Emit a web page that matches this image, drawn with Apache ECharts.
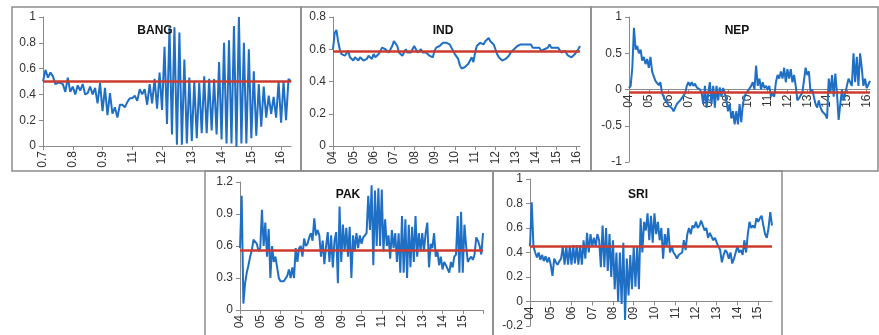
<!DOCTYPE html>
<html>
<head>
<meta charset="utf-8">
<script src="https://cdn.jsdelivr.net/npm/echarts@6/dist/echarts.min.js"></script>
<style>html,body{margin:0;padding:0;background:#fff;}#c{width:879px;height:335px;}</style>
</head>
<body>
<div id="c"></div>
<script>
// ---- data ----
const panelNames = ["BANG", "IND", "NEP", "PAK", "SRI"];

const bangYears = ["0.7","0.8","0.9","11","12","13","14","15","16"];
const indYears  = ["04","05","06","07","08","09","10","11","12","13","14","15","16"];
const nepYears  = ["04","05","06","07","08","09","10","11","12","13","14","15","16"];
const pakYears  = ["04","05","06","07","08","09","10","11","12","13","14","15"];
const sriYears  = ["04","05","06","07","08","09","10","11","12","13","14","15"];

const bangValues = [0.50,0.59,0.53,0.57,0.54,0.48,0.49,0.49,0.48,0.42,0.53,0.42,0.46,0.40,0.47,0.43,0.48,0.40,0.41,0.46,
0.40,0.45,0.33,0.49,0.27,0.45,0.24,0.41,0.25,0.30,0.22,0.32,0.32,0.30,0.34,0.37,0.37,0.39,0.35,0.44,
0.40,0.44,0.32,0.48,0.33,0.52,0.29,0.57,0.28,0.77,0.17,0.92,0.09,0.92,0.01,0.88,0.01,0.67,0.02,0.53,
0.04,0.50,0.06,0.49,0.10,0.54,0.10,0.52,0.12,0.52,0.09,0.65,0.05,0.80,0.02,0.82,0.02,0.93,-0.01,1.00,
0.02,0.80,0.02,0.75,0.06,0.58,0.08,0.48,0.15,0.46,0.22,0.39,0.25,0.38,0.22,0.50,0.18,0.50,0.20,0.52,0.50];

const indValues = [0.60,0.70,0.72,0.65,0.60,0.57,0.56,0.56,0.57,0.59,0.55,0.54,0.53,0.55,0.56,0.53,0.55,0.54,0.53,0.52,
0.54,0.56,0.56,0.54,0.57,0.55,0.56,0.57,0.59,0.61,0.60,0.60,0.61,0.58,0.60,0.62,0.65,0.64,0.62,0.58,
0.57,0.56,0.58,0.60,0.58,0.59,0.58,0.59,0.62,0.60,0.58,0.59,0.60,0.58,0.57,0.58,0.57,0.56,0.56,0.55,
0.59,0.61,0.62,0.62,0.63,0.64,0.63,0.64,0.63,0.63,0.61,0.62,0.57,0.56,0.54,0.50,0.48,0.47,0.49,0.50,
0.51,0.53,0.55,0.52,0.58,0.62,0.63,0.64,0.64,0.63,0.65,0.64,0.67,0.65,0.64,0.63,0.60,0.57,0.55,0.54,
0.53,0.53,0.54,0.55,0.56,0.58,0.58,0.60,0.61,0.62,0.63,0.63,0.64,0.63,0.64,0.63,0.62,0.63,0.61,0.62,
0.61,0.60,0.61,0.59,0.58,0.60,0.60,0.61,0.63,0.61,0.60,0.61,0.60,0.61,0.60,0.58,0.57,0.59,0.58,0.56,
0.56,0.55,0.55,0.57,0.56,0.60,0.62];

const nepValues = [0.02,0.05,0.30,0.85,0.55,0.60,0.50,0.55,0.40,0.45,0.35,0.42,0.30,0.45,0.25,0.18,0.12,0.10,0.06,0.10,
-0.05,-0.10,-0.15,-0.18,-0.22,-0.20,-0.26,-0.30,-0.25,-0.20,-0.22,-0.15,-0.12,-0.10,-0.05,0.05,0.10,0.05,0.10,0.05,
0.08,0.03,0.05,0.00,-0.05,-0.20,0.05,-0.25,-0.05,0.10,-0.20,0.05,-0.25,0.05,-0.15,0.03,-0.10,0.02,-0.05,-0.15,
-0.30,-0.20,-0.40,-0.30,-0.48,-0.30,-0.48,-0.20,-0.45,-0.20,-0.10,-0.05,-0.02,0.00,0.05,0.10,0.00,0.33,0.05,0.15,
0.00,0.10,0.02,0.05,0.00,0.05,-0.10,-0.05,-0.10,0.10,0.20,0.15,0.25,0.15,0.30,0.10,0.28,0.15,0.28,0.10,
0.20,0.05,-0.15,-0.12,-0.08,-0.05,-0.05,0.30,0.20,0.25,-0.05,0.00,-0.10,-0.20,-0.25,-0.15,-0.25,-0.30,-0.32,-0.35,
-0.40,0.15,-0.05,0.20,-0.10,0.22,-0.05,-0.42,-0.20,0.00,-0.15,-0.05,0.05,0.15,0.10,0.05,0.50,0.10,0.45,0.05,
0.50,0.30,0.05,0.15,0.02,0.00,0.12];

const pakValues = [0.58,1.07,0.06,0.25,0.35,0.42,0.50,0.56,0.66,0.65,0.62,0.55,0.58,0.94,0.60,0.82,0.50,0.76,0.30,0.60,
0.45,0.50,0.40,0.30,0.27,0.27,0.27,0.28,0.32,0.38,0.30,0.40,0.30,0.58,0.45,0.58,0.60,0.50,0.67,0.60,
0.62,0.68,0.72,0.65,0.86,0.70,0.75,0.70,0.50,0.65,0.43,0.60,0.73,0.45,0.70,0.40,0.65,0.73,0.25,0.97,
0.45,0.80,0.55,0.77,0.50,0.78,0.30,0.70,0.55,0.72,0.58,0.70,0.62,0.68,0.70,0.72,1.07,0.75,1.17,0.42,
1.12,0.60,1.14,0.60,1.13,0.55,0.85,0.60,0.70,0.48,0.75,0.58,0.72,0.45,0.72,0.35,0.88,0.35,0.85,0.30,
0.80,0.40,0.78,0.45,0.88,0.50,0.72,0.55,0.72,0.55,0.72,0.82,0.40,0.62,0.58,0.72,0.50,0.55,0.42,0.50,
0.38,0.45,0.42,0.42,0.35,0.45,0.40,0.50,0.52,0.88,0.35,0.92,0.35,0.80,0.60,0.45,0.48,0.50,0.47,0.52,
0.68,0.65,0.60,0.52,0.72];

const sriValues = [0.45,0.81,0.45,0.40,0.36,0.40,0.34,0.38,0.33,0.37,0.32,0.36,0.30,0.21,0.35,0.32,0.30,0.33,0.35,0.45,
0.30,0.45,0.30,0.45,0.30,0.46,0.31,0.46,0.30,0.46,0.30,0.50,0.35,0.56,0.40,0.55,0.45,0.52,0.45,0.55,
0.50,0.28,0.62,0.28,0.60,0.25,0.55,0.20,0.50,0.10,0.40,0.00,0.40,-0.02,0.48,-0.15,0.35,0.05,0.38,0.10,
0.45,0.12,0.45,0.10,0.68,0.40,0.65,0.58,0.72,0.50,0.70,0.48,0.72,0.55,0.65,0.50,0.60,0.35,0.55,0.45,
0.60,0.40,0.45,0.40,0.38,0.35,0.38,0.37,0.40,0.50,0.42,0.55,0.60,0.55,0.62,0.60,0.65,0.60,0.62,0.66,
0.62,0.58,0.60,0.52,0.56,0.55,0.50,0.52,0.48,0.45,0.42,0.32,0.38,0.42,0.40,0.35,0.40,0.31,0.35,0.40,
0.45,0.40,0.42,0.38,0.50,0.40,0.55,0.65,0.60,0.62,0.60,0.68,0.65,0.68,0.70,0.62,0.55,0.52,0.60,0.73,0.62];

const meanLevels = [0.50, 0.59, -0.045, 0.555, 0.445];

const yMin = [0, 0, -1, 0, -0.2];
const yMax = [1, 0.8, 1, 1.2, 1];
const yStep = [0.2, 0.2, 0.5, 0.3, 0.2];

// ---- layout ----
const grids = [
  {left: 43, top: 17, width: 248, height: 129},
  {left: 333, top: 17, width: 247, height: 129},
  {left: 629, top: 17, width: 241, height: 145},
  {left: 240, top: 182, width: 243, height: 128},
  {left: 530, top: 179, width: 242, height: 147}
];
const panels = [
  [12, 7, 289, 164],
  [301, 7, 290, 164],
  [591, 7, 287, 164],
  [205, 171, 288, 166],
  [493, 171, 289, 166]
];
const titlePos = [[155, 31], [443, 31], [737, 31], [348, 195], [638, 195]];

const allValues = [bangValues, indValues, nepValues, pakValues, sriValues];
const allYears = [bangYears, indYears, nepYears, pakYears, sriYears];

const axisGrey = '#8a8a8a';
const font = 'Liberation Sans, Arial, sans-serif';

const xAxes = [], yAxes = [], series = [], graphics = [];
allValues.forEach((vals, k) => {
  const years = allYears[k];
  // place the category axis where y = 0 (for panels with negative range)
  const zeroOffset = yMin[k] < 0 ? -grids[k].height * (0 - yMin[k]) / (yMax[k] - yMin[k]) : 0;
  xAxes.push({
    type: 'category', gridIndex: k, boundaryGap: false,
    data: vals.map((_, i) => String(i)),
    offset: zeroOffset,
    axisLine: {onZero: false, lineStyle: {color: axisGrey, width: 1}},
    axisTick: {show: true, interval: 11, length: 4, lineStyle: {color: axisGrey}},
    axisLabel: {interval: 11, rotate: 90, fontSize: 12, color: '#333', fontFamily: font, margin: 5,
      formatter: (v, i) => years[Math.round(i / 12)] || ''},
    splitLine: {show: false}
  });
  yAxes.push({
    type: 'value', gridIndex: k, min: yMin[k], max: yMax[k], interval: yStep[k],
    axisLine: {show: true, lineStyle: {color: axisGrey, width: 1}},
    axisTick: {show: true, length: 4, lineStyle: {color: axisGrey}},
    axisLabel: {fontSize: 12, color: '#333', fontFamily: font, margin: 7},
    splitLine: {show: false}
  });
  series.push({
    type: 'line', xAxisIndex: k, yAxisIndex: k, data: vals,
    showSymbol: false, symbol: 'none',
    lineStyle: {color: '#1f6fc5', width: 2},
    z: 3,
    markLine: {
      silent: true, symbol: 'none', label: {show: false},
      lineStyle: {color: '#cc3b2f', width: 2.5, type: 'solid'},
      data: [{yAxis: meanLevels[k]}],
      z: 4
    }
  });
  const p = panels[k];
  graphics.push({type: 'rect', shape: {x: p[0], y: p[1], width: p[2], height: p[3]},
    style: {fill: 'none', stroke: '#8c8c8c', lineWidth: 1.5}, z: 10});
  graphics.push({type: 'text', x: titlePos[k][0], y: titlePos[k][1],
    style: {text: panelNames[k], fontSize: 12, fontWeight: 'bold', fontFamily: font, fill: '#111',
      textAlign: 'center', textVerticalAlign: 'middle'}, z: 10});
});

const chart = echarts.init(document.getElementById('c'), null, {renderer: 'canvas'});
chart.setOption({
  animation: false,
  backgroundColor: '#fff',
  grid: grids.map(g => Object.assign({containLabel: false}, g)),
  xAxis: xAxes,
  yAxis: yAxes,
  series: series,
  graphic: graphics
});
</script>
</body>
</html>
